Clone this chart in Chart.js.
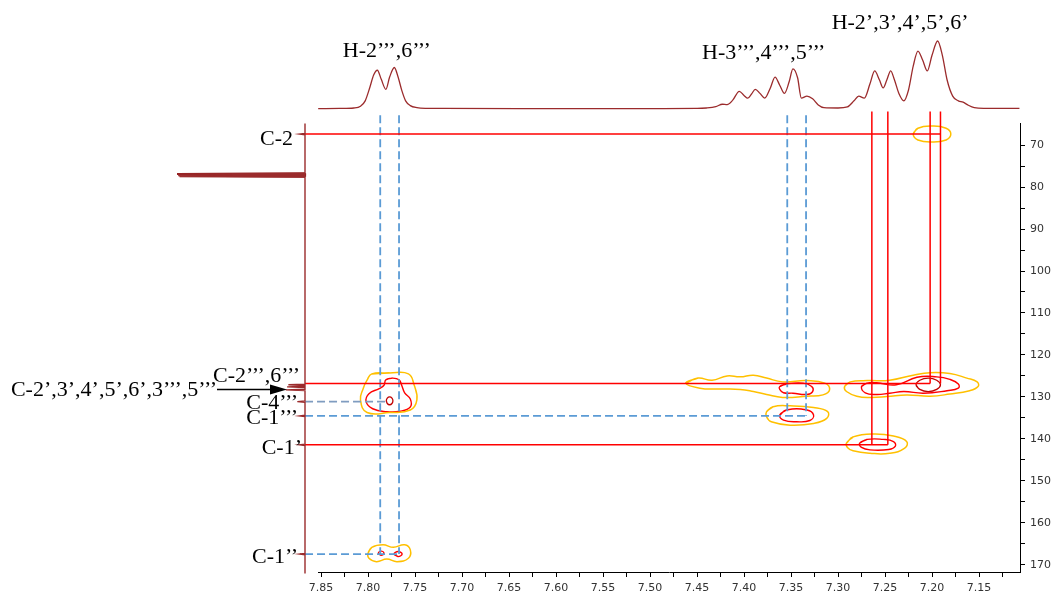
<!DOCTYPE html>
<html>
<head>
<meta charset="utf-8">
<script src="https://cdn.jsdelivr.net/npm/chart.js@4.4.1/dist/chart.umd.min.js"></script>
<style>
  html, body { margin: 0; padding: 0; background: #ffffff; }
  canvas { display: block; }
</style>
</head>
<body>
<canvas id="hmbc" width="1051" height="598"></canvas>
<script>
// ---------- 1H projection (top trace), ppm / relative intensity ----------
const hShift = [7.853, 7.830, 7.815, 7.808, 7.803, 7.798, 7.794, 7.790, 7.786, 7.781,
  7.777, 7.772, 7.768, 7.764, 7.760, 7.755, 7.748, 7.738, 7.720, 7.600,
  7.500, 7.450, 7.440, 7.430, 7.423, 7.418, 7.412, 7.405, 7.400, 7.396,
  7.392, 7.388, 7.383, 7.378, 7.372, 7.367, 7.362, 7.357, 7.352, 7.348,
  7.343, 7.339, 7.333, 7.327, 7.321, 7.315, 7.300, 7.290, 7.283, 7.278,
  7.272, 7.266, 7.261, 7.256, 7.252, 7.248, 7.244, 7.240, 7.235, 7.230,
  7.225, 7.220, 7.215, 7.210, 7.205, 7.200, 7.194, 7.189, 7.184, 7.178,
  7.172, 7.167, 7.162, 7.155, 7.145, 7.107];
const hIntensity = [0.5, 0.8, 1.5, 4, 12, 32, 50, 57, 44, 29,
  47, 61, 47, 27, 12, 5, 2, 1, 0.8, 0.6,
  0.6, 0.8, 1.5, 3.5, 7, 6.5, 13, 26, 20, 16,
  22, 29, 23, 16, 31, 47, 35, 23, 40, 59,
  46, 16, 19, 15, 6, 2, 1.5, 3, 12, 19,
  16, 37, 56, 43, 31, 43, 56, 43, 22, 12,
  28, 63, 85, 72, 56, 79, 100, 79, 43, 19,
  12, 10, 6, 2, 1, 1];

// ---------- 13C projection (left trace), stick peaks ----------
const cShift = [67.4, 76.9, 77.15, 77.4, 127.1, 127.6, 128.3, 131.1, 134.5, 141.4, 167.4];
const cIntensity = [4, 100, 99, 98, 13, 14, 15, 6, 4, 4, 4];
const C_TRACE_START = 64.9, C_TRACE_END = 172.0;
const PROJ_PPM = 7.867;   // 1H position of the 13C projection baseline

// ---------- axis ticks ----------
const xTicks = [7.125, 7.15, 7.175, 7.2, 7.225, 7.25, 7.275, 7.3, 7.325, 7.35,
  7.375, 7.4, 7.425, 7.45, 7.475, 7.5, 7.525, 7.55, 7.575, 7.6,
  7.625, 7.65, 7.675, 7.7, 7.725, 7.75, 7.775, 7.8, 7.825, 7.85];
const xTickLabels = ['7.85', '7.80', '7.75', '7.70', '7.65', '7.60', '7.55', '7.50',
  '7.45', '7.40', '7.35', '7.30', '7.25', '7.20', '7.15'];
const yTicks = [70, 75, 80, 85, 90, 95, 100, 105, 110, 115, 120, 125, 130, 135, 140,
  145, 150, 155, 160, 165, 170];
const yTickLabels = ['70', '80', '90', '100', '110', '120', '130', '140', '150', '160', '170'];

// ---------- assignments ----------
const protonLabels = ['H-2\u2019\u2019\u2019,6\u2019\u2019\u2019',
  'H-3\u2019\u2019\u2019,4\u2019\u2019\u2019,5\u2019\u2019\u2019',
  'H-2\u2019,3\u2019,4\u2019,5\u2019,6\u2019'];
const protonLabelShift = [7.780, 7.379, 7.234];
const carbonLabels = ['C-2', 'C-2\u2019\u2019\u2019,6\u2019\u2019\u2019',
  'C-2\u2019,3\u2019,4\u2019,5\u2019,6\u2019,3\u2019\u2019\u2019,5\u2019\u2019\u2019',
  'C-4\u2019\u2019\u2019', 'C-1\u2019\u2019\u2019', 'C-1\u2019', 'C-1\u2019\u2019'];
const carbonLabelShift = [67.4, 126.8, 128.2, 131.1, 134.5, 141.4, 167.4];

// ---------- correlations (solid red: H-2'..6'; dashed blue: H-2''',6''' / H-3''',4''',5''') ----------
const redVertH = [7.264, 7.247, 7.202, 7.191];
const redVertEndC = [141.4, 141.4, 126.8, 126.8];
const redHorC = [67.4, 126.8, 141.4];
const redHorEndH = [7.191, 7.202, 7.247];
const blueVertH = [7.787, 7.767, 7.354, 7.334];
const blueVertEndC = [167.4, 167.4, 134.5, 134.5];
const blueHorC = [131.1, 134.5, 167.4];
const blueHorEndH = [7.779, 7.334, 7.767];
const RED_TOP_C = 62.0, BLUE_TOP_C = 62.9;

// ---------- contour rings [1H ppm, 13C ppm] ----------
const c2Outer = [[7.220,67.4],[7.215,66.0],[7.200,65.5],[7.185,66.0],[7.180,67.4],[7.185,68.8],[7.200,69.3],[7.215,68.8]];

const h2Outer = [[7.796,124.5],[7.777,124.3],[7.757,124.5],[7.751,127.1],[7.748,130.7],[7.755,133.1],[7.777,133.7],[7.801,133.7],[7.808,130.7],[7.805,127.9],[7.801,126.0]];
const h2Mid = [[7.781,125.9],[7.774,125.5],[7.767,125.9],[7.764,127.3],[7.761,129.0],[7.755,130.5],[7.755,132.4],[7.766,133.4],[7.780,133.5],[7.795,132.8],[7.802,131.1],[7.799,129.2],[7.788,128.0],[7.783,127.2]];
const h2Core = [[7.7805,130.9],[7.7795,131.55],[7.777,131.85],[7.7745,131.55],[7.7735,130.9],[7.7745,130.25],[7.777,129.95],[7.7795,130.25]];

const h3Outer = [[7.462,126.7],[7.449,125.5],[7.434,126.0],[7.418,125.0],[7.404,125.2],[7.390,124.8],[7.376,125.5],[7.359,126.4],[7.333,126.1],[7.314,126.7],[7.309,128.3],[7.316,129.5],[7.333,129.8],[7.359,130.1],[7.376,129.4],[7.390,128.7],[7.404,128.2],[7.426,128.1],[7.447,127.9]];
const h3Mid = [[7.362,127.5],[7.355,126.9],[7.337,126.7],[7.328,127.5],[7.327,128.7],[7.333,129.4],[7.348,129.1],[7.358,129.0],[7.362,128.2]];

const c1tOuter = [[7.376,133.5],[7.369,132.3],[7.351,132.1],[7.326,132.5],[7.311,133.5],[7.312,135.1],[7.326,136.3],[7.351,136.7],[7.371,135.9],[7.376,134.7]];
const c1tMid = [[7.362,134.3],[7.355,133.1],[7.333,133.1],[7.326,134.3],[7.330,135.6],[7.344,135.9],[7.358,135.5]];

const hpOuter = [[7.293,127.5],[7.287,126.4],[7.269,126.1],[7.245,126.0],[7.220,124.8],[7.202,124.2],[7.181,124.4],[7.163,125.5],[7.152,126.4],[7.151,127.5],[7.160,128.5],[7.181,129.3],[7.202,129.8],[7.227,129.5],[7.248,129.9],[7.266,130.1],[7.280,129.8],[7.291,128.7]];
const hpMid = [[7.275,127.5],[7.269,126.7],[7.259,126.6],[7.238,127.1],[7.216,125.3],[7.195,125.2],[7.181,125.8],[7.172,126.9],[7.172,127.9],[7.184,128.5],[7.209,129.1],[7.230,128.7],[7.245,129.1],[7.259,129.4],[7.271,129.0]];
const hpCore = [[7.217,127.1],[7.213,128.2],[7.204,128.7],[7.195,128.2],[7.191,127.1],[7.195,126.0],[7.204,125.5],[7.213,126.0]];

const c1pOuter = [[7.291,141.0],[7.284,139.5],[7.262,138.8],[7.241,139.3],[7.227,140.6],[7.229,142.2],[7.245,143.4],[7.266,143.4],[7.284,142.8],[7.290,142.0]];
const c1pMid = [[7.277,141.0],[7.269,140.1],[7.252,140.1],[7.241,140.6],[7.239,141.7],[7.246,142.5],[7.266,142.6],[7.275,142.0]];

const c1ppOuter = [[7.800,167.2],[7.796,165.8],[7.784,165.2],[7.773,165.8],[7.761,165.2],[7.755,166.4],[7.757,168.4],[7.769,169.2],[7.780,168.6],[7.791,169.2],[7.799,168.4]];
const c1ppMidA = [[7.789,167.2],[7.786,167.7],[7.783,167.2],[7.786,166.7]];
const c1ppMidB = [[7.7723,167.4],[7.768,168.0],[7.7637,167.4],[7.768,166.8]];

// ---------- layout ----------
const W = 1051, H = 598;
const AREA = { left: 318, top: 123, right: 1020, bottom: 572 };
const X_MIN = 7.1064, X_MAX = 7.8532;
const Y_MIN = 64.76, Y_MAX = 171.67;
const H_BASE_PX = 109, H_PX_PER_UNIT = 0.68;   // top trace baseline / scale
const C_BASE_PX = 305, C_PX_PER_UNIT = 1.28;   // left trace baseline / scale

const yTopMax = (H_BASE_PX - AREA.top) / H_PX_PER_UNIT;
const yTopMin = yTopMax - (AREA.bottom - AREA.top) / H_PX_PER_UNIT;
const xProjMax = (C_BASE_PX - AREA.left) / C_PX_PER_UNIT;
const xProjMin = xProjMax - (AREA.right - AREA.left) / C_PX_PER_UNIT;

const COL = { trace: '#9b2b2c', solvent: '#8b1010', red: '#ff0000', yellow: '#ffc000', core: '#c00000', blue: '#5b9bd5', blueGrey: '#7f9cc0' };

// ---------- dataset builders ----------
const pts = arr => arr.map(([x, y]) => ({ x, y }));
const ring = arr => pts(arr.concat([arr[0], arr[1]]));

function contour(arr, color, width) {
  return { data: ring(arr), borderColor: color, borderWidth: width, tension: 0.45,
    showLine: true, pointRadius: 0, fill: false, order: 2, clip: false };
}
function segment(a, b, color, width, dash) {
  return { data: [a, b], borderColor: color, borderWidth: width, borderDash: dash || [],
    showLine: true, pointRadius: 0, fill: false, order: 1, clip: false, tension: 0 };
}

const datasets = [];

// top 1H trace
datasets.push({
  data: hShift.map((s, i) => ({ x: s, y: hIntensity[i] })),
  xAxisID: 'x', yAxisID: 'yTop', borderColor: COL.trace, borderWidth: 1.3,
  showLine: true, pointRadius: 0, cubicInterpolationMode: 'monotone', clip: false, order: 0
});

// left 13C trace built from the stick peaks
const cTrace = [{ x: 0, y: C_TRACE_START }];
cShift.forEach((s, i) => {
  cTrace.push({ x: 0, y: s - 0.15 }, { x: cIntensity[i], y: s }, { x: 0, y: s + 0.15 });
});
cTrace.push({ x: 0, y: C_TRACE_END });
datasets.push({
  data: cTrace, xAxisID: 'xProj', yAxisID: 'y', borderColor: COL.trace, borderWidth: 1.4,
  showLine: true, pointRadius: 0, tension: 0, clip: false, order: 0
});
// solvent lines drawn heavier on top of the trace
datasets.push({
  data: cTrace.filter(p => p.y > 76 && p.y < 78.2), xAxisID: 'xProj', yAxisID: 'y',
  borderColor: COL.solvent, borderWidth: 2.2, showLine: true, pointRadius: 0, tension: 0, clip: false, order: 0
});

// correlation lines
redVertH.forEach((h, i) => datasets.push(segment({ x: h, y: RED_TOP_C }, { x: h, y: redVertEndC[i] }, COL.red, 1.5)));
redHorC.forEach((c, i) => datasets.push(segment({ x: PROJ_PPM, y: c }, { x: redHorEndH[i], y: c }, COL.red, 1.5)));
blueVertH.forEach((h, i) => datasets.push(segment({ x: h, y: BLUE_TOP_C }, { x: h, y: blueVertEndC[i] }, COL.blue, 1.8, [8, 4])));
blueHorC.forEach((c, i) => datasets.push(segment({ x: PROJ_PPM, y: c }, { x: blueHorEndH[i], y: c },
  i === 0 ? COL.blueGrey : COL.blue, 1.8, [8, 4])));

// contours: outer (gold), middle (red), core (dark red)
[c2Outer, h2Outer, h3Outer, c1tOuter, hpOuter, c1pOuter, c1ppOuter].forEach(r => datasets.push(contour(r, COL.yellow, 1.5)));
[h2Mid, h3Mid, c1tMid, hpMid, c1pMid, c1ppMidA, c1ppMidB].forEach(r => datasets.push(contour(r, COL.red, 1.4)));
[h2Core, hpCore].forEach(r => datasets.push(contour(r, COL.core, 1.3)));

// ---------- text labels and arrow ----------
const PROTON_LABEL_BASELINE = [57, 59, 29];
const CARBON_LABEL_LAYOUT = [
  { right: 293, dy: 11 }, { right: 300, dy: -1.5 }, { right: 217, dy: 6.5 },
  { right: 298, dy: 7.3 }, { right: 298, dy: 8.5 }, { right: 302, dy: 9 }, { right: 298, dy: 9 }
];
const labelLayer = {
  id: 'labelLayer',
  afterDatasetsDraw(chart) {
    const { ctx } = chart;
    const xs = chart.scales.x, ys = chart.scales.y;
    ctx.save();
    ctx.fillStyle = '#000';
    ctx.font = '22px "Liberation Serif", "Times New Roman", serif';
    ctx.textBaseline = 'alphabetic';
    ctx.textAlign = 'center';
    protonLabels.forEach((t, i) => ctx.fillText(t, xs.getPixelForValue(protonLabelShift[i]), PROTON_LABEL_BASELINE[i]));
    ctx.textAlign = 'right';
    carbonLabels.forEach((t, i) => {
      const L = CARBON_LABEL_LAYOUT[i];
      ctx.fillText(t, L.right, ys.getPixelForValue(carbonLabelShift[i]) + L.dy);
    });
    // arrow from the grouped aromatic label to its 13C peaks
    const ay = ys.getPixelForValue(carbonLabelShift[2]);
    ctx.strokeStyle = '#000';
    ctx.lineWidth = 1.5;
    ctx.beginPath();
    ctx.moveTo(217, ay);
    ctx.lineTo(272, ay);
    ctx.stroke();
    ctx.beginPath();
    ctx.moveTo(287, ay);
    ctx.lineTo(270, ay - 5);
    ctx.lineTo(270, ay + 5);
    ctx.closePath();
    ctx.fill();
    ctx.restore();
  }
};

const tickFont = { family: '"DejaVu Sans", Verdana, sans-serif', size: 11 };

new Chart(document.getElementById('hmbc'), {
  type: 'scatter',
  data: { datasets },
  options: {
    responsive: false,
    devicePixelRatio: 1,
    animation: false,
    events: [],
    layout: { padding: { left: AREA.left, top: AREA.top, right: 0, bottom: 0 } },
    elements: { line: { capBezierPoints: false }, point: { radius: 0 } },
    plugins: { legend: { display: false }, tooltip: { enabled: false } },
    scales: {
      x: {
        type: 'linear', position: 'bottom', min: X_MIN, max: X_MAX, reverse: true,
        afterBuildTicks: s => { s.ticks = xTicks.map(v => ({ value: v })); },
        afterFit: s => { s.height = H - AREA.bottom; },
        grid: { drawOnChartArea: false, drawTicks: true, tickLength: 5, color: '#000', lineWidth: 1 },
        border: { display: true, color: '#000', width: 1 },
        ticks: {
          autoSkip: false, maxRotation: 0, minRotation: 0, padding: 5, color: '#333', font: tickFont,
          callback: v => { const s = v.toFixed(2); return xTickLabels.includes(s) && Math.abs(v * 20 - Math.round(v * 20)) < 1e-6 ? s : ''; }
        }
      },
      y: {
        type: 'linear', position: 'right', min: Y_MIN, max: Y_MAX, reverse: true,
        afterBuildTicks: s => { s.ticks = yTicks.map(v => ({ value: v })); },
        afterFit: s => { s.width = W - AREA.right; },
        grid: { drawOnChartArea: false, drawTicks: true, tickLength: 5, color: '#000', lineWidth: 1 },
        border: { display: true, color: '#000', width: 1 },
        ticks: {
          autoSkip: false, padding: 5, color: '#333', font: tickFont,
          callback: v => (yTickLabels.includes(String(v)) ? String(v) : '')
        }
      },
      yTop: { type: 'linear', display: false, min: yTopMin, max: yTopMax },
      xProj: { type: 'linear', display: false, reverse: true, min: xProjMin, max: xProjMax }
    }
  },
  plugins: [labelLayer]
});
</script>
</body>
</html>
